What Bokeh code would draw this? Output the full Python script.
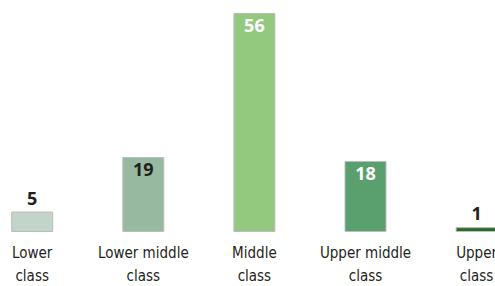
from bokeh.plotting import figure
from bokeh.models import Range1d, ColumnDataSource
from bokeh.core.properties import value
from bokeh.embed import file_html
from bokeh.resources import INLINE

# ---- data ----
label_line1 = ["Lower", "Lower middle", "Middle", "Upper middle", "Upper"]
label_line2 = ["class", "class", "class", "class", "class"]
shares = [5, 19, 56, 18, 1]

# ---- styles ----
bar_colors = ["#c3d5c9", "#97b9a0", "#93c97f", "#5a9f6e", "#2d6a2b"]
value_colors = ["#231f20", "#231f20", "#ffffff", "#ffffff", "#231f20"]

W, H = 495, 286
step_px = 111.1
first_px = 31.7
base_px = 231.0
unit_px = (231 - 13) / 56.0
LABEL_FONT = value("'DejaVu Sans Condensed', Roboto, sans-serif")
VALUE_FONT = value("'Open Sans', sans-serif")

p = figure(width=W, height=H, output_backend="svg", toolbar_location=None,
           x_range=Range1d(-first_px / step_px, (W - first_px) / step_px),
           y_range=Range1d(-(H - base_px) / unit_px, base_px / unit_px),
           min_border=0)
p.axis.visible = False
p.grid.visible = False
p.outline_line_color = None
p.background_fill_color = "white"
p.border_fill_color = "white"

xs = list(range(len(shares)))
src = ColumnDataSource(dict(x=xs, top=shares, color=bar_colors))

p.vbar(x="x", top="top", bottom=0, width=41 / step_px, source=src,
       fill_color="color", line_color="#bcbcbc", line_width=1)

inside = [i for i, v in enumerate(shares) if v >= 10]
outside = [i for i, v in enumerate(shares) if v < 10]

def sub(idx):
    return ColumnDataSource(dict(x=[xs[i] for i in idx], y=[shares[i] for i in idx],
                                 t=[str(shares[i]) for i in idx],
                                 c=[value_colors[i] for i in idx]))

p.text(x="x", y="y", text="t", source=sub(inside), text_color="c",
       text_font=VALUE_FONT, text_font_style="bold", text_font_size="18px",
       text_align="center", text_baseline="alphabetic", y_offset=12)
p.text(x="x", y="y", text="t", source=sub(outside), text_color="c",
       text_font=VALUE_FONT, text_font_style="bold", text_font_size="18px",
       text_align="center", text_baseline="alphabetic", y_offset=-14)

lab_src = ColumnDataSource(dict(x=xs, y=[0] * len(xs), l1=label_line1, l2=label_line2))
p.text(x="x", y="y", text="l1", source=lab_src, text_color="#231f20",
       text_font=LABEL_FONT, text_font_size="15px",
       text_align="center", text_baseline="alphabetic", y_offset=21)
p.text(x="x", y="y", text="l2", source=lab_src, text_color="#231f20",
       text_font=LABEL_FONT, text_font_size="15px",
       text_align="center", text_baseline="alphabetic", y_offset=44)

open("out.html", "w").write(file_html(p, INLINE))
